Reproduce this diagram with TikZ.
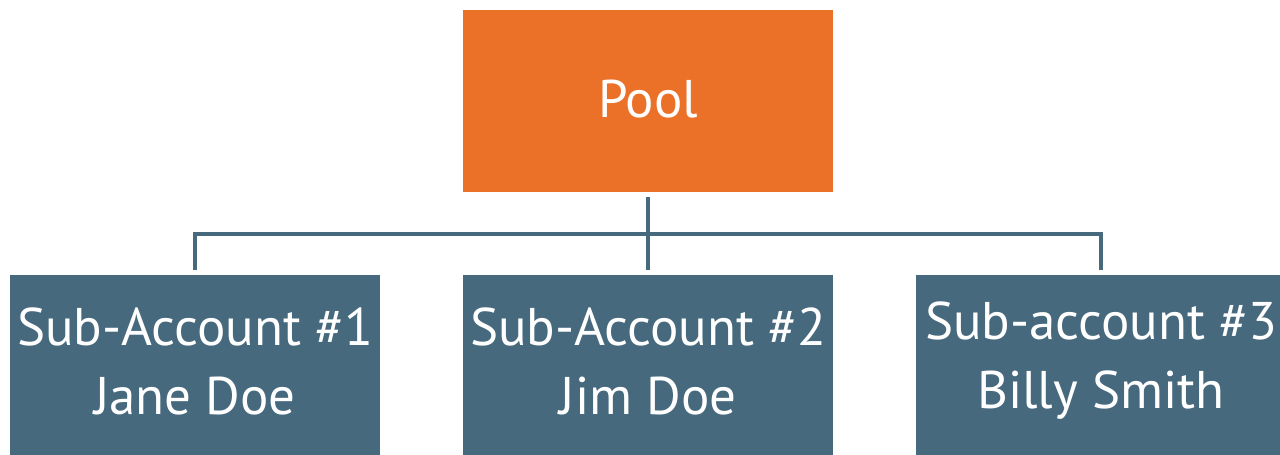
\documentclass[tikz,border=0pt]{standalone}
\usepackage{fontspec}
\setmainfont{PT Sans}
\definecolor{poolorange}{HTML}{EC7128}
\definecolor{slate}{HTML}{46697E}
\begin{document}
\begin{tikzpicture}[x=1pt,y=1pt,
  box/.style={rectangle, fill=#1, text=white, minimum width=370pt,
    align=center, inner sep=0pt,
    font=\fontsize{53}{69}\selectfont},
  lbl/.style={text=white, align=center, inner sep=0pt,
    font=\fontsize{53}{69}\selectfont},
  conn/.style={draw=slate, line width=4pt}]
\useasboundingbox (0,0) rectangle (1280,-455);
\fill[white] (0,0) rectangle (1280,-455);
% top node
\node[box=poolorange, minimum height=182.5pt] (pool) at (648,-101) {};
\node[lbl] (poolt) at ([yshift=2pt]pool.center) {Pool};
% sub-accounts
\node[box=slate, minimum height=180pt] (s1) at (195,-365) {};
\node[box=slate, minimum height=180pt] (s2) at (648,-365) {};
\node[box=slate, minimum height=180pt] (s3) at (1101,-365) {};
\node[lbl] (s1t) at ([yshift=4pt]s1.center) {Sub-Account \#1\\Jane Doe};
\node[lbl] (s2t) at ([yshift=4pt]s2.center) {Sub-Account \#2\\Jim Doe};
\node[lbl] (s3t) at ([yshift=4pt]s3.center) {Sub-account \#3\\Billy Smith};
% connectors
\coordinate (bus) at (648,-233.5);
\draw[conn] ([yshift=-5pt]pool.south) -- ([yshift=4.5pt]s2.north);
\draw[conn] ([yshift=5pt]s1.north) |- (bus) -| ([yshift=5pt]s3.north);
\end{tikzpicture}
\end{document}
